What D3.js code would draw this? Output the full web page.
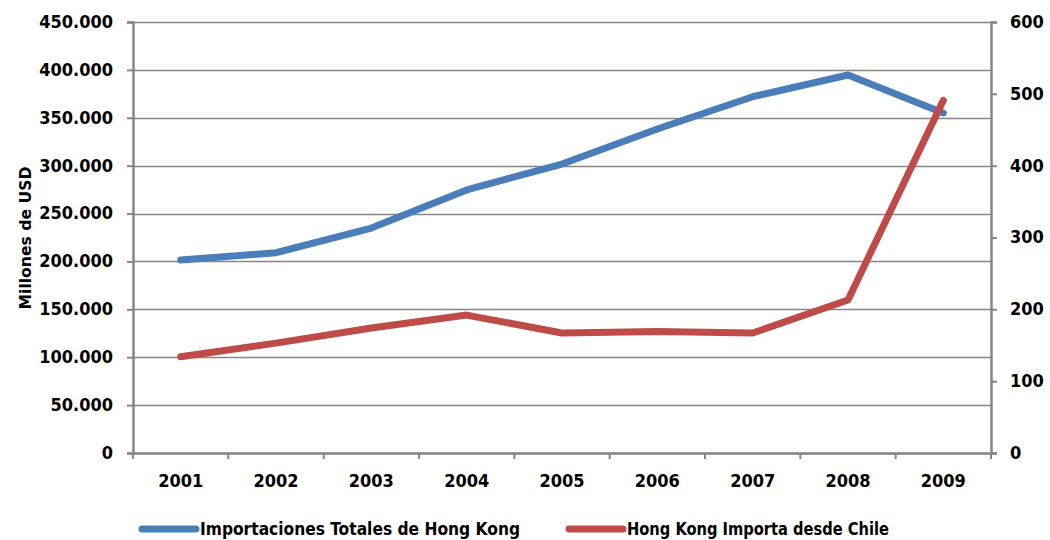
<!DOCTYPE html>
<html>
<head>
<meta charset="utf-8">
<script src="https://cdn.jsdelivr.net/npm/d3@7"></script>
<style>
  body { margin: 0; background: #fff; }
  text { font-family: "DejaVu Sans Condensed", "DejaVu Sans", sans-serif; font-weight: bold; fill: #000; }
</style>
</head>
<body>
<svg id="chart" width="1050" height="540"></svg>
<script>
var years = ["2001", "2002", "2003", "2004", "2005", "2006", "2007", "2008", "2009"];
var totalImports = [201500, 209100, 234900, 274600, 301700, 338300, 372000, 394700, 355000];
var fromChile = [134, 153, 174, 192, 167, 169, 167, 213, 491];
var leftTicks = [0, 50000, 100000, 150000, 200000, 250000, 300000, 350000, 400000, 450000];
var rightTicks = [0, 100, 200, 300, 400, 500, 600];
var seriesNames = ["Importaciones Totales de Hong Kong", "Hong Kong Importa desde Chile"];

var svg = d3.select('#chart');
var margin = {left: 133, right: 59, top: 22, bottom: 87},
    width = 1050 - margin.left - margin.right,
    height = 540 - margin.top - margin.bottom;
var grey = '#868686',
    blue = '#4A7EBB',
    red = '#BE4B48',
    font = '"DejaVu Sans Condensed", "DejaVu Sans", sans-serif';

var xScale = d3.scaleBand().domain(years).range([0, width]);
var yLeft = d3.scaleLinear().domain([0, 450000]).range([height, 0]);
var yRight = d3.scaleLinear().domain([0, 600]).range([height, 0]);

var g = svg.append('g').attr('transform', 'translate(' + margin.left + ',' + margin.top + ')');

// gridlines
g.selectAll('.grid')
    .data(leftTicks)
    .enter()
    .append('line')
    .attr('x1', 0)
    .attr('x2', width)
    .attr('y1', function (d) { return Math.round(yLeft(d)) + 0.5; })
    .attr('y2', function (d) { return Math.round(yLeft(d)) + 0.5; })
    .attr('stroke', grey)
    .attr('stroke-width', 1.6);

var fmt = function (d) {
    return d === 0 ? '0' : d3.format(',')(d).replace(/,/g, '.');
};

var leftAxis = g.append('g')
    .call(d3.axisLeft(yLeft).tickValues(leftTicks).tickFormat(fmt).tickSize(6).tickPadding(14));
var rightAxis = g.append('g')
    .attr('transform', 'translate(' + width + ',0)')
    .call(d3.axisRight(yRight).tickValues(rightTicks).tickSize(6).tickPadding(13));
var xAxis = g.append('g')
    .attr('transform', 'translate(0,' + height + ')')
    .call(d3.axisBottom(xScale).tickSize(0).tickPadding(21));

[leftAxis, rightAxis, xAxis].forEach(function (ax) {
    ax.select('.domain').attr('stroke', grey).attr('stroke-width', 2.5);
    ax.selectAll('.tick line').attr('stroke', grey).attr('stroke-width', 2);
    ax.selectAll('text')
        .attr('font-size', 18)
        .attr('font-family', font)
        .attr('font-weight', 'bold')
        .attr('fill', '#000');
});
leftAxis.selectAll('text').attr('dy', '0.3em');
rightAxis.selectAll('text').attr('dy', '0.3em');

// category boundary ticks
g.selectAll('.xtick')
    .data(years.concat(['end']))
    .enter()
    .append('line')
    .attr('x1', function (d, i) { return i * xScale.bandwidth(); })
    .attr('x2', function (d, i) { return i * xScale.bandwidth(); })
    .attr('y1', height)
    .attr('y2', height + 6)
    .attr('stroke', grey)
    .attr('stroke-width', 2);

// y title
svg.append('text')
    .attr('transform', 'translate(31,' + (margin.top + 216) + ') rotate(-90)')
    .attr('text-anchor', 'middle')
    .attr('font-size', 16)
    .attr('textLength', 143)
    .attr('lengthAdjust', 'spacingAndGlyphs')
    .text('Millones de USD');

var xc = function (d, i) { return xScale(years[i]) + xScale.bandwidth() / 2; };

var lineLeft = d3.line().x(xc).y(function (d) { return yLeft(d); });
var lineRight = d3.line().x(xc).y(function (d) { return yRight(d); });

g.append('path')
    .datum(totalImports)
    .attr('d', lineLeft)
    .attr('fill', 'none')
    .attr('stroke', blue)
    .attr('stroke-width', 7)
    .attr('stroke-linecap', 'round')
    .attr('stroke-linejoin', 'round');

g.append('path')
    .datum(fromChile)
    .attr('d', lineRight)
    .attr('fill', 'none')
    .attr('stroke', red)
    .attr('stroke-width', 7)
    .attr('stroke-linecap', 'round')
    .attr('stroke-linejoin', 'round');

// legend
var legend = [
    {name: seriesNames[0], color: blue, x: 142, len: 320},
    {name: seriesNames[1], color: red, x: 569, len: 262}
];
var lg = svg.selectAll('.legend')
    .data(legend)
    .enter()
    .append('g')
    .attr('transform', function (d) { return 'translate(' + d.x + ',529)'; });
lg.append('line')
    .attr('x1', 0)
    .attr('x2', 54)
    .attr('stroke', function (d) { return d.color; })
    .attr('stroke-width', 7)
    .attr('stroke-linecap', 'round');
lg.append('text')
    .attr('x', 58)
    .attr('dy', '0.35em')
    .attr('font-size', 18)
    .attr('textLength', function (d) { return d.len; })
    .attr('lengthAdjust', 'spacingAndGlyphs')
    .text(function (d) { return d.name; });
</script>
</body>
</html>
